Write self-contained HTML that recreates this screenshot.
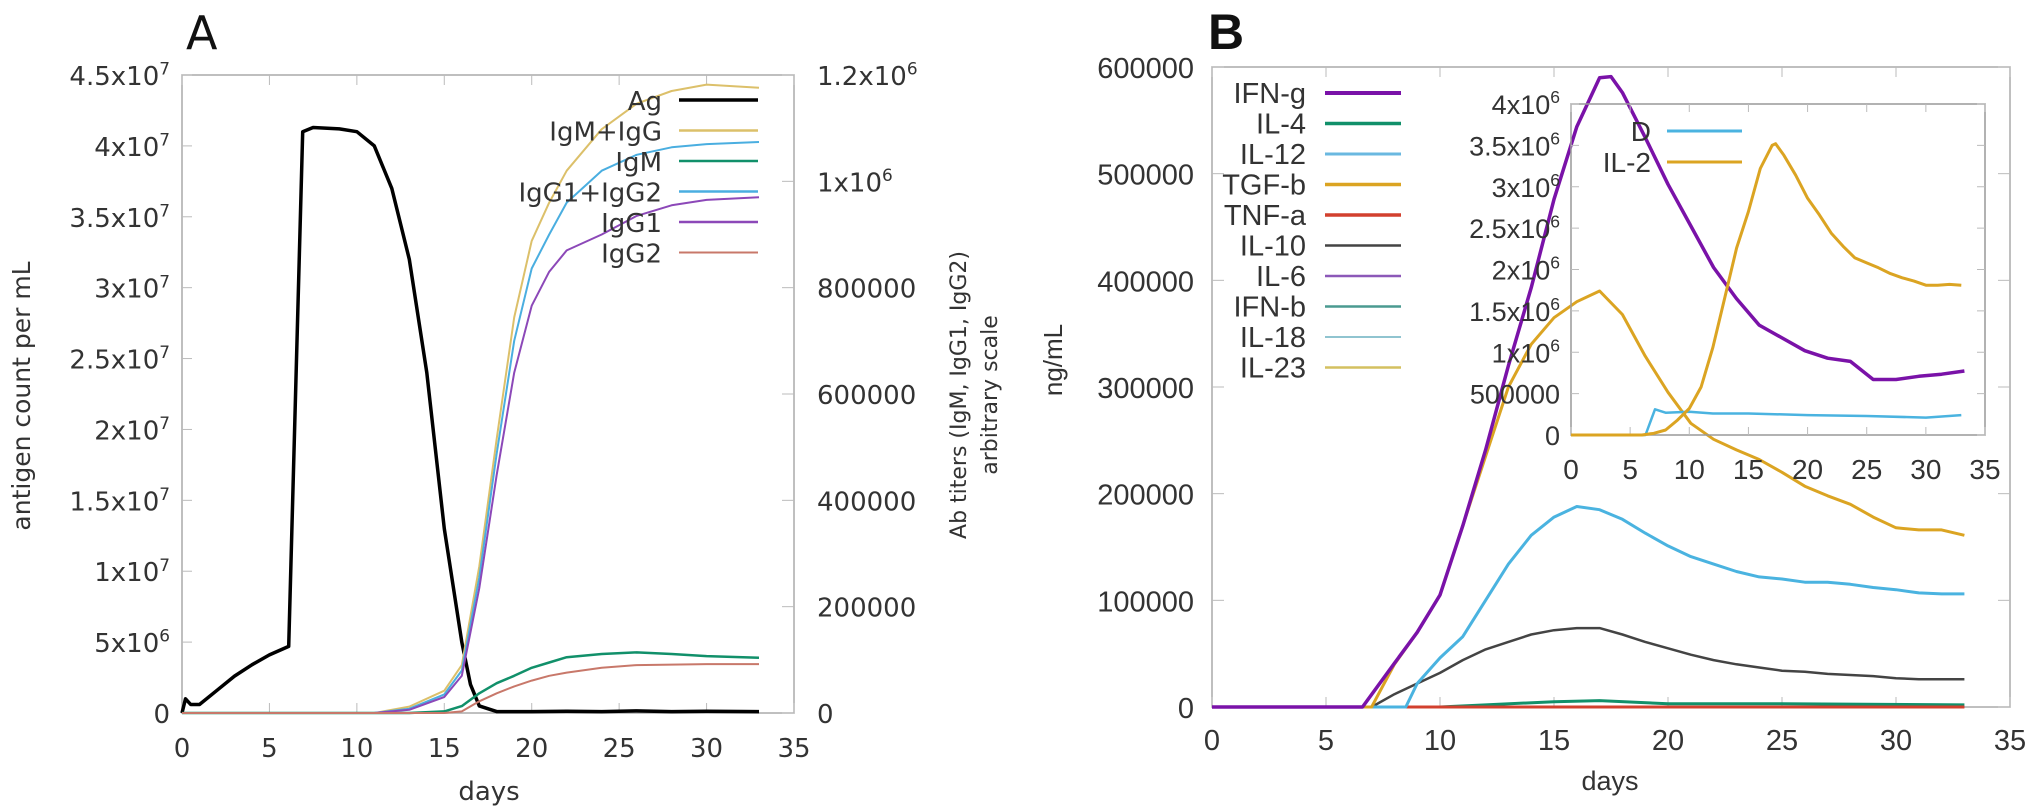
<!DOCTYPE html>
<html><head><meta charset="utf-8"><style>
html,body{margin:0;padding:0;background:#fff;}
svg{display:block;font-family:"Liberation Sans",sans-serif;}
</style></head><body>
<svg id="fig" width="2031" height="811" viewBox="0 0 2031 811" xmlns="http://www.w3.org/2000/svg">
<g id="gA" font-family="'DejaVu Sans', sans-serif"></g>
<g id="gB"></g>
</svg>
<script>
// ---------- Panel A data ----------
const agDays = [0,0.2,0.5,1,2,3,4,5,6.1,6.9,7.5,9,10,11,12,13,14,15,16,16.5,17,18,20,22,24,26,28,30,33];
const agVals = [0,1.0e6,0.6e6,0.6e6,1.6e6,2.6e6,3.4e6,4.1e6,4.7e6,4.1e7,4.13e7,4.12e7,4.1e7,4.0e7,3.7e7,3.2e7,2.4e7,1.3e7,5e6,2e6,0.5e6,0.1e6,0.1e6,0.12e6,0.1e6,0.15e6,0.1e6,0.12e6,0.1e6];
const abDays = [0,11,13,15,16,17,18,19,20,21,22,24,26,28,30,33];
const igmIgg = [0,0,0.012e6,0.042e6,0.09e6,0.276e6,0.516e6,0.744e6,0.888e6,0.96e6,1.02e6,1.098e6,1.146e6,1.17e6,1.182e6,1.176e6];
const igg12 = [0,0,0.008e6,0.035e6,0.08e6,0.255e6,0.488e6,0.7e6,0.836e6,0.9e6,0.96e6,1.02e6,1.05e6,1.064e6,1.07e6,1.074e6];
const igg1 = [0,0,0.006e6,0.03e6,0.07e6,0.235e6,0.448e6,0.64e6,0.766e6,0.83e6,0.87e6,0.9e6,0.935e6,0.955e6,0.965e6,0.97e6];
const igm = [0,0,0,0.003e6,0.013e6,0.037e6,0.056e6,0.07e6,0.085e6,0.095e6,0.105e6,0.111e6,0.114e6,0.111e6,0.107e6,0.104e6];
const igg2 = [0,0,0,0,0.003e6,0.022e6,0.037e6,0.05e6,0.061e6,0.07e6,0.076e6,0.085e6,0.09e6,0.091e6,0.092e6,0.092e6];
const aXTicks = [0,5,10,15,20,25,30,35];
const aLeftTicks = [0,5e6,1e7,1.5e7,2e7,2.5e7,3e7,3.5e7,4e7,4.5e7];
const aLeftLabels = ["0","5x10^6","1x10^7","1.5x10^7","2x10^7","2.5x10^7","3x10^7","3.5x10^7","4x10^7","4.5x10^7"];
const aRightTicks = [0,2e5,4e5,6e5,8e5,1e6,1.2e6];
const aRightLabels = ["0","200000","400000","600000","800000","1x10^6","1.2x10^6"];

// ---------- Panel B data ----------
const bDays = [0,6.6,8,9,10,11,12,13,14,15,16,17,17.5,18,19,20,21,22,23,24,25,26,27,28,29,30,31,32,33];
const ifng = [0,0,41e3,70e3,105e3,170e3,241e3,320e3,393e3,476e3,544e3,590e3,591e3,576e3,534e3,490e3,451e3,412e3,383e3,358e3,346e3,334e3,327e3,324e3,307e3,307e3,310e3,312e3,315e3];
const tgfDays = [0,7,8,9,10,11,12,13,14,15,16,17,18,19,20,21,22,23,24,25,26,27,28,29,30,31,32,33];
const tgfb = [0,0,40e3,70e3,105e3,170e3,235e3,300e3,340e3,365e3,380e3,390e3,368e3,329e3,295e3,266e3,251e3,241e3,232e3,220e3,207e3,198e3,190e3,178e3,168e3,166e3,166e3,161e3];
const il12Days = [0,8.5,9,10,11,12,13,14,15,16,17,18,19,20,21,22,23,24,25,26,27,28,29,30,31,32,33];
const il12 = [0,0,22e3,46e3,66e3,100e3,134e3,161e3,178e3,188e3,185e3,176e3,163e3,151e3,141e3,134e3,127e3,122e3,120e3,117e3,117e3,115e3,112e3,110e3,107e3,106e3,106e3];
const il10Days = [0,7,8,9,10,11,12,13,14,15,16,17,18,19,20,21,22,23,24,25,26,27,28,29,30,31,32,33];
const il10 = [0,0,12e3,22e3,32e3,44e3,54e3,61e3,68e3,72e3,74e3,74e3,68e3,61e3,55e3,49e3,44e3,40e3,37e3,34e3,33e3,31e3,30e3,29e3,27e3,26e3,26e3,26e3];
const il4Days = [0,10,12,15,17,20,25,33];
const il4 = [0,0,2e3,5e3,6e3,3e3,3e3,2e3];
const flatDays = [0,33];
const flatZero = [0,0];
const bXTicks = [0,5,10,15,20,25,30,35];
const bYTicks = [0,1e5,2e5,3e5,4e5,5e5,6e5];
const bYLabels = ["0","100000","200000","300000","400000","500000","600000"];
// inset
const il2Days = [0,6,7,8,9,10,11,12,13,14,15,16,17,17.3,18,19,20,21,22,23,24,25,26,27,28,29,30,31,32,33];
const il2 = [0,0,0.02e6,0.06e6,0.18e6,0.32e6,0.58e6,1.06e6,1.66e6,2.26e6,2.7e6,3.22e6,3.5e6,3.52e6,3.38e6,3.14e6,2.86e6,2.66e6,2.44e6,2.28e6,2.14e6,2.08e6,2.02e6,1.95e6,1.9e6,1.86e6,1.81e6,1.81e6,1.82e6,1.81e6];
const dDays = [0,6.3,7.1,8,10,12,15,20,25,30,33];
const dVals = [0,0,0.31e6,0.27e6,0.28e6,0.26e6,0.26e6,0.24e6,0.23e6,0.21e6,0.24e6];
const inXTicks = [0,5,10,15,20,25,30,35];
const inYTicks = [0,5e5,1e6,1.5e6,2e6,2.5e6,3e6,3.5e6,4e6];
const inYLabels = ["0","500000","1x10^6","1.5x10^6","2x10^6","2.5x10^6","3x10^6","3.5x10^6","4x10^6"];

const NS = "http://www.w3.org/2000/svg";
function mk(parent, tag, attrs){ const e=document.createElementNS(NS,tag); for(const k in attrs) e.setAttribute(k,attrs[k]); parent.appendChild(e); return e; }
function label(parent, x, y, str, size, anchor){
  const t = mk(parent,"text",{x:x,y:y,"font-size":size,"text-anchor":anchor,fill:"#333"});
  const p = str.split("^");
  t.appendChild(document.createTextNode(p[0]));
  if(p[1]){ const s=mk(t,"tspan",{dy:-size*0.4,"font-size":size*0.65}); s.textContent=p[1]; }
  return t;
}
function scale(d0,d1,r0,r1){ return v => r0+(v-d0)*(r1-r0)/(d1-d0); }
function line(parent, xs, ys, sx, sy, color, w){
  let d=""; for(let i=0;i<xs.length;i++) d+=(i?"L":"M")+sx(xs[i]).toFixed(1)+","+sy(ys[i]).toFixed(1);
  return mk(parent,"path",{d:d,fill:"none",stroke:color,"stroke-width":w,"stroke-linejoin":"round"});
}

// ---------- Panel A ----------
const A = document.getElementById("gA");
const aL=182,aR=794,aT=75,aB=713;
const ax = scale(0,35,aL,aR), ayL = scale(0,4.5e7,aB,aT), ayR = scale(0,1.2e6,aB,aT);
let e;
e=mk(A,"rect",{x:aL,y:aT,width:aR-aL,height:aB-aT,fill:"none",stroke:"#aaa","stroke-width":1.5});
 
aXTicks.forEach(v=>{ mk(A,"line",{x1:ax(v),x2:ax(v),y1:aB,y2:aB-10,stroke:"#bbb"}); mk(A,"line",{x1:ax(v),x2:ax(v),y1:aT,y2:aT+10,stroke:"#bbb"});
  e=label(A,ax(v),757,String(v),26,"middle");   });
aLeftTicks.forEach((v,i)=>{ mk(A,"line",{x1:aL,x2:aL+10,y1:ayL(v),y2:ayL(v),stroke:"#bbb"});
  e=label(A,170,ayL(v)+10,aLeftLabels[i],26,"end");   });
aRightTicks.forEach((v,i)=>{ mk(A,"line",{x1:aR,x2:aR-12,y1:ayR(v),y2:ayR(v),stroke:"#bbb"});
  e=label(A,817,ayR(v)+10,aRightLabels[i],26,"start");   });
const aSeries=[
 ["Ag",agDays,agVals,ayL,"#000",3.5],
 ["IgM+IgG",abDays,igmIgg,ayR,"#dcc06a",2],
 ["IgM",abDays,igm,ayR,"#11906a",2.5],
 ["IgG1+IgG2",abDays,igg12,ayR,"#4aaee0",2],
 ["IgG1",abDays,igg1,ayR,"#8c48b8",2],
 ["IgG2",abDays,igg2,ayR,"#c8786a",2]];
aSeries.forEach(s=>{ e=line(A,s[1],s[2],ax,s[3],s[4],s[5]);
    });
const aLeg=[["Ag","#000",3.5],["IgM+IgG","#dcc06a",2.5],["IgM","#11906a",2.5],["IgG1+IgG2","#4aaee0",2.5],["IgG1","#8c48b8",2.5],["IgG2","#c8786a",2]];
aLeg.forEach((s,i)=>{ const y=100+i*30.5;
  e=label(A,662,y+10,s[0],26,"end");  
  e=mk(A,"line",{x1:679,x2:758,y1:y,y2:y,stroke:s[1],"stroke-width":s[2]});   });
e=mk(A,"text",{x:186,y:49,"font-size":46,fill:"#111"}); e.textContent="A";  
e=mk(A,"text",{x:489,y:800,"font-size":26,"text-anchor":"middle",fill:"#333"}); e.textContent="days";  
e=mk(A,"text",{x:0,y:0,"font-size":25,"text-anchor":"middle",fill:"#333",transform:"translate(30,396) rotate(-90)"}); e.textContent="antigen count per mL";  
e=mk(A,"text",{x:0,y:0,"font-size":22,"text-anchor":"middle",fill:"#333",transform:"translate(966,395) rotate(-90)"}); e.textContent="Ab titers (IgM, IgG1, IgG2)";  
e=mk(A,"text",{x:0,y:0,"font-size":22,"text-anchor":"middle",fill:"#333",transform:"translate(997,395) rotate(-90)"}); e.textContent="arbitrary scale";  

// ---------- Panel B ----------
const B = document.getElementById("gB");
const bL=1212,bR=2010,bT=67,bB=707;
const bx = scale(0,35,bL,bR), by = scale(0,6e5,bB,bT);
e=mk(B,"rect",{x:bL,y:bT,width:bR-bL,height:bB-bT,fill:"none",stroke:"#aaa","stroke-width":1.5});
 
bXTicks.forEach(v=>{ mk(B,"line",{x1:bx(v),x2:bx(v),y1:bB,y2:bB-10,stroke:"#bbb"}); mk(B,"line",{x1:bx(v),x2:bx(v),y1:bT,y2:bT+10,stroke:"#bbb"});
  e=label(B,bx(v),750,String(v),29,"middle");   });
bYTicks.forEach((v,i)=>{ mk(B,"line",{x1:bL,x2:bL+12,y1:by(v),y2:by(v),stroke:"#bbb"}); mk(B,"line",{x1:bR,x2:bR-12,y1:by(v),y2:by(v),stroke:"#bbb"});
  e=label(B,1194,by(v)+11,bYLabels[i],29,"end");   });
const bSeries=[
 ["il-23",flatDays,flatZero,"#d4c060",2],["il-18",flatDays,flatZero,"#7cc4d0",2],["ifn-b",flatDays,flatZero,"#2a9a80",2],["il-6",flatDays,flatZero,"#8c48b8",2],
 ["il-4",il4Days,il4,"#11906a",3],["tnf-a",flatDays,flatZero,"#d2402e",3],
 ["il-10",il10Days,il10,"#444",2.5],["il-12",il12Days,il12,"#4ab3e0",3],["tgf-b",tgfDays,tgfb,"#dba422",3],["ifn-g",bDays,ifng,"#7a12a8",3.5]];
bSeries.forEach(s=>{ e=line(B,s[1],s[2],bx,by,s[3],s[4]);   });
const bLeg=[["IFN-g","#7a12a8",4],["IL-4","#11906a",3.5],["IL-12","#6ab8e0",3],["TGF-b","#dba422",3.5],["TNF-a","#d2402e",3.5],["IL-10","#444",2.5],["IL-6","#8c58b8",2.5],["IFN-b","#4a9a90",2.5],["IL-18","#90c4d0",2],["IL-23","#d4c060",2.5]];
bLeg.forEach((s,i)=>{ const y=93+i*30.5;
  e=label(B,1306,y+10,s[0],29,"end");  
  e=mk(B,"line",{x1:1325,x2:1401,y1:y,y2:y,stroke:s[1],"stroke-width":s[2]});   });
// inset
const iL=1571,iR=1985,iT=104,iB=435;
const ix = scale(0,35,iL,iR), iy = scale(0,4e6,iB,iT);
e=mk(B,"rect",{x:iL,y:iT,width:iR-iL,height:iB-iT,fill:"none",stroke:"#999","stroke-width":1.5});
 
inXTicks.forEach(v=>{ mk(B,"line",{x1:ix(v),x2:ix(v),y1:iB,y2:iB-8,stroke:"#bbb"}); mk(B,"line",{x1:ix(v),x2:ix(v),y1:iT,y2:iT+8,stroke:"#bbb"});
  e=label(B,ix(v),479,String(v),28,"middle");   });
inYTicks.forEach((v,i)=>{ mk(B,"line",{x1:iL,x2:iL+8,y1:iy(v),y2:iy(v),stroke:"#bbb"}); mk(B,"line",{x1:iR,x2:iR-8,y1:iy(v),y2:iy(v),stroke:"#bbb"});
  e=label(B,1560,iy(v)+10,inYLabels[i],27,"end");   });
e=line(B,dDays,dVals,ix,iy,"#4ab3e0",2.5);  
e=line(B,il2Days,il2,ix,iy,"#dba422",3);  
[["D","#4ab3e0"],["IL-2","#dba422"]].forEach((s,i)=>{ const y=131+i*31;
  e=label(B,1651,y+10,s[0],28,"end");  
  e=mk(B,"line",{x1:1667,x2:1742,y1:y,y2:y,stroke:s[1],"stroke-width":3});   });
e=mk(B,"text",{x:1208,y:49,"font-size":50,"font-weight":"bold",fill:"#111"}); e.textContent="B";  
e=mk(B,"text",{x:1610,y:790,"font-size":27,"text-anchor":"middle",fill:"#333"}); e.textContent="days";  
e=mk(B,"text",{x:0,y:0,"font-size":26,"text-anchor":"middle",fill:"#333",transform:"translate(1062,360) rotate(-90)"}); e.textContent="ng/mL";  
</script>
</body></html>
